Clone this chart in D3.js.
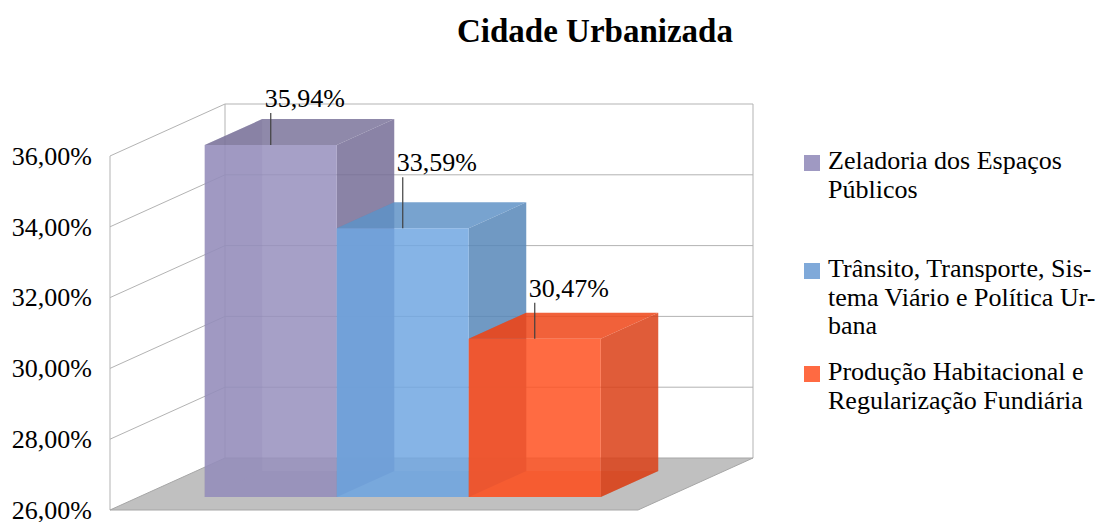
<!DOCTYPE html>
<html>
<head>
<meta charset="utf-8">
<script src="https://cdn.jsdelivr.net/npm/d3@7"></script>
<style>
  body { margin: 0; background: #fff; }
  svg text { font-family: "Liberation Serif", "Times New Roman", Times, serif; fill: #000; }
</style>
</head>
<body>
<script>
// data
var series = ["Zeladoria dos Espaços Públicos",
              "Trânsito, Transporte, Sistema Viário e Política Urbana",
              "Produção Habitacional e Regularização Fundiária"];
var values = [35.94, 33.59, 30.47];
var valueLabels = ["35,94%", "33,59%", "30,47%"];
var ticks = [26, 28, 30, 32, 34, 36];
var tickLabels = ["26,00%", "28,00%", "30,00%", "32,00%", "34,00%", "36,00%"];
var legendLines = [["Zeladoria dos Espaços", "Públicos"],
                   ["Trânsito, Transporte, Sis-", "tema Viário e Política Ur-", "bana"],
                   ["Produção Habitacional e", "Regularização Fundiária"]];

// styles
var faces = [
  {front: "#968fbd", top: "#7b749b", side: "#766d97", back: "#6e6690"},
  {front: "#71a7e2", top: "#6093c7", side: "#5787b8", back: "#4f7eb0"},
  {front: "#ff5121", top: "#ee4518", side: "#db4016", back: "#c93a12"}
];
var legendColors = ["#9f99c2", "#7fa9d9", "#ff6a42"];
var labelLift = [32, 51, 36];
var legendY = [169, 277, 380];
var serif = "'Liberation Serif', 'Times New Roman', serif";

var svg = d3.select("body")
    .append("svg")
    .attr("width", 1097)
    .attr("height", 522)
    .attr("font-family", serif)
    .style("display", "block");

// 3d frame
var left = 110, right = 638;
var DX = 115, DY = -52;

var y = d3.scaleLinear().domain([26, 36]).range([510, 156]);
var x = d3.scaleBand().domain(series).range([left, right])
    .paddingInner(0).paddingOuter(0.5);

function p(px, v, d) {
  return [px + d * DX, y(v) + d * DY];
}
function poly(pts) {
  return "M" + pts.map(function (q) { return q[0] + "," + q[1]; }).join("L") + "Z";
}

//title
svg.append("text")
    .attr("x", 595)
    .attr("y", 42)
    .attr("text-anchor", "middle")
    .attr("font-family", serif)
    .style("font-size", "33px")
    .style("font-weight", "bold")
    .text("Cidade Urbanizada");

var grid = svg.append("g")
    .attr("stroke", "#b3b3b3")
    .attr("stroke-width", 1)
    .attr("fill", "none");

// floor
svg.append("path")
    .attr("d", poly([p(left, 26, 0), p(right, 26, 0), p(right, 26, 1), p(left, 26, 1)]))
    .attr("fill", "#c0c0c0")
    .attr("stroke", "#a6a6a6")
    .attr("stroke-width", 1);

// gridlines on the walls
ticks.slice(1).forEach(function (t) {
  var a = p(left, t, 0), b = p(left, t, 1), c = p(right, t, 1);
  grid.append("path").attr("d", "M" + a + "L" + b + "L" + c);
});
// wall edges
grid.append("path").attr("d", "M" + p(left, 26, 0) + "L" + p(left, 36, 0));
grid.append("path").attr("d", "M" + p(left, 26, 1) + "L" + p(left, 36, 1));
grid.append("path").attr("d", "M" + p(right, 26, 1) + "L" + p(right, 36, 1));

// y axis labels
svg.append("g").selectAll("text")
    .data(ticks)
    .enter()
    .append("text")
    .attr("x", 92)
    .attr("y", function (d) { return y(d); })
    .attr("dy", "0.34em")
    .attr("text-anchor", "end")
    .attr("font-family", serif)
    .style("font-size", "26px")
    .text(function (d, i) { return tickLabels[i]; });

// bars
var d0 = 0.25, d1 = 0.75;
var bars = svg.append("g");
series.forEach(function (s, i) {
  var x0 = x(s), x1 = x(s) + x.bandwidth(), v = values[i], f = faces[i];
  var g = bars.append("g").attr("fill-opacity", 0.85);
  // hidden faces, seen faintly through the front
  g.append("path").attr("fill", f.back).attr("fill-opacity", 0.3)
      .attr("d", poly([p(x0, 26, d0), p(x0, v, d0), p(x0, v, d1), p(x0, 26, d1)]));
  g.append("path").attr("fill", f.back).attr("fill-opacity", 0.3)
      .attr("d", poly([p(x0, 26, d0), p(x1, 26, d0), p(x1, 26, d1), p(x0, 26, d1)]));
  // visible faces
  g.append("path").attr("fill", f.side)
      .attr("d", poly([p(x1, 26, d0), p(x1, v, d0), p(x1, v, d1), p(x1, 26, d1)]));
  g.append("path").attr("fill", f.top)
      .attr("d", poly([p(x0, v, d0), p(x1, v, d0), p(x1, v, d1), p(x0, v, d1)]));
  g.append("path").attr("fill", f.front)
      .attr("d", poly([p(x0, 26, d0), p(x1, 26, d0), p(x1, v, d0), p(x0, v, d0)]));
});

// value labels with leader lines
series.forEach(function (s, i) {
  var top = p(x(s) + x.bandwidth() / 2, values[i], d0);
  svg.append("line")
      .attr("x1", top[0]).attr("y1", top[1])
      .attr("x2", top[0]).attr("y2", top[1] - labelLift[i])
      .attr("stroke", "#404040")
      .attr("stroke-width", 1.2);
  svg.append("text")
      .attr("x", top[0] - 6)
      .attr("y", top[1] - labelLift[i] - 6)
      .attr("font-family", serif)
      .style("font-size", "26px")
      .text(valueLabels[i]);
});

// legend
var legend = svg.append("g");
legendLines.forEach(function (lines, i) {
  legend.append("rect")
      .attr("x", 804)
      .attr("y", legendY[i] - 14)
      .attr("width", 16)
      .attr("height", 16)
      .attr("fill", legendColors[i]);
  var t = legend.append("text")
      .attr("x", 828)
      .attr("y", legendY[i])
      .attr("font-family", serif)
      .style("font-size", "26px");
  t.selectAll("tspan")
      .data(lines)
      .enter()
      .append("tspan")
      .attr("x", 828)
      .attr("dy", function (d, j) { return j === 0 ? 0 : 28.5; })
      .text(function (d) { return d; });
});
</script>
</body>
</html>
